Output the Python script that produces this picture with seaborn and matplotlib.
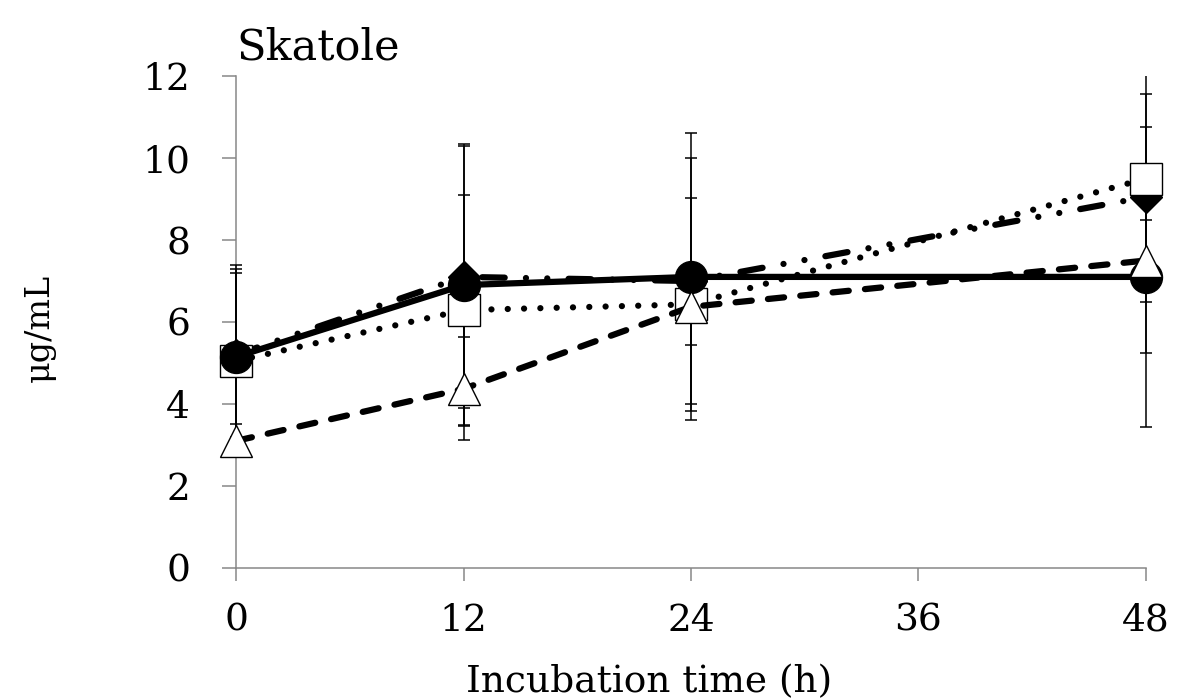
import numpy as np
import pandas as pd
import seaborn as sns
import matplotlib.pyplot as plt
from matplotlib.patches import Rectangle

# incubation times (h)
times = [0, 12, 24, 48]

# means and SDs (ug/mL)
circle_mean = [5.15, 6.9, 7.1, 7.1]
circle_sd = [2.24, 3.44, 3.5, 3.66]
square_mean = [5.05, 6.29, 6.43, 9.5]
square_sd = [2.25, 2.81, 2.6, 2.06]
triangle_mean = [3.1, 4.37, 6.37, 7.5]
triangle_sd = [0.4, 1.26, 0.93, 1.0]
diamond_mean = [5.2, 7.1, 7.0, 9.05]
diamond_sd = [2.0, 3.2, 3.0, 3.8]

xticks = [0, 12, 24, 36, 48]
yticks = [0, 2, 4, 6, 8, 10, 12]

sns.set_style("ticks")
plt.rcParams['font.family'] = ['DejaVu Serif']
plt.rcParams['text.color'] = 'black'
plt.rcParams['axes.labelcolor'] = 'black'

fig = plt.figure(figsize=(11.79, 7), dpi=100)
ax = fig.add_axes([0.2002, 0.1886, 0.7718, 0.7028])

grey = '#878787'
lw = 4.5

# (mean, sd, marker, size, face, linestyle, zorder) - drawing order as in the original
series = [
    (diamond_mean, diamond_sd, 'D', 16.8, 'black', (0, (3.6, 3.4, 0.01, 3.4, 0.01, 3.4)), 3),
    (square_mean, square_sd, 's', 23, 'white', (0, (0.01, 2.6)), 4),
    (circle_mean, circle_sd, 'o', 23, 'black', '-', 5),
    (triangle_mean, triangle_sd, '^', 23, 'white', (0, (2.6, 2.6)), 6),
]

clip = Rectangle((-0.05, 0), 1.1, 1, transform=ax.transAxes, visible=False)
ax.add_patch(clip)

for mean, sd, mk, ms, face, ls, z in series:
    eb = ax.errorbar(times, mean, yerr=sd, fmt='none', ecolor='black',
                     elinewidth=1.1, capsize=4.3, capthick=1.1, zorder=2)
    for art in eb.lines[1] + eb.lines[2]:
        art.set_clip_path(clip)

for mean, sd, mk, ms, face, ls, z in series:
    df = pd.DataFrame({'time': times, 'value': mean})
    sns.lineplot(data=df, x='time', y='value', ax=ax, color='black',
                 linewidth=lw, linestyle=ls, marker=mk, markersize=ms,
                 markerfacecolor=face, markeredgecolor='black',
                 markeredgewidth=1.0, errorbar=None, zorder=z,
                 dash_capstyle='round', solid_capstyle='butt', clip_on=False)

ax.set_xlim(0, 48)
ax.set_ylim(0, 12)
ax.set_xticks(xticks)
ax.set_yticks(yticks)
ax.set_xticklabels([str(t) for t in xticks])
ax.set_yticklabels([str(t) for t in yticks])

for side in ['top', 'right']:
    ax.spines[side].set_visible(False)
for side in ['left', 'bottom']:
    ax.spines[side].set_color(grey)
    ax.spines[side].set_linewidth(1.1)
    ax.spines[side].set_zorder(1)

ax.tick_params(axis='y', direction='out', length=10, width=1.1, color=grey,
               labelsize=27, pad=23, labelcolor='black')
ax.tick_params(axis='x', direction='out', length=9, width=1.1, color=grey,
               labelsize=27, pad=16, labelcolor='black')

ax.set_xlabel('Incubation time (h)', fontsize=27, color='black')
ax.xaxis.set_label_coords(0.454, -0.195)
ax.set_ylabel('μg/mL', fontsize=24, color='black')
ax.yaxis.set_label_coords(-0.198, 0.488)

ax.set_title('Skatole', loc='left', fontsize=31, pad=12, color='black')

fig.savefig('out.png', dpi=100)
